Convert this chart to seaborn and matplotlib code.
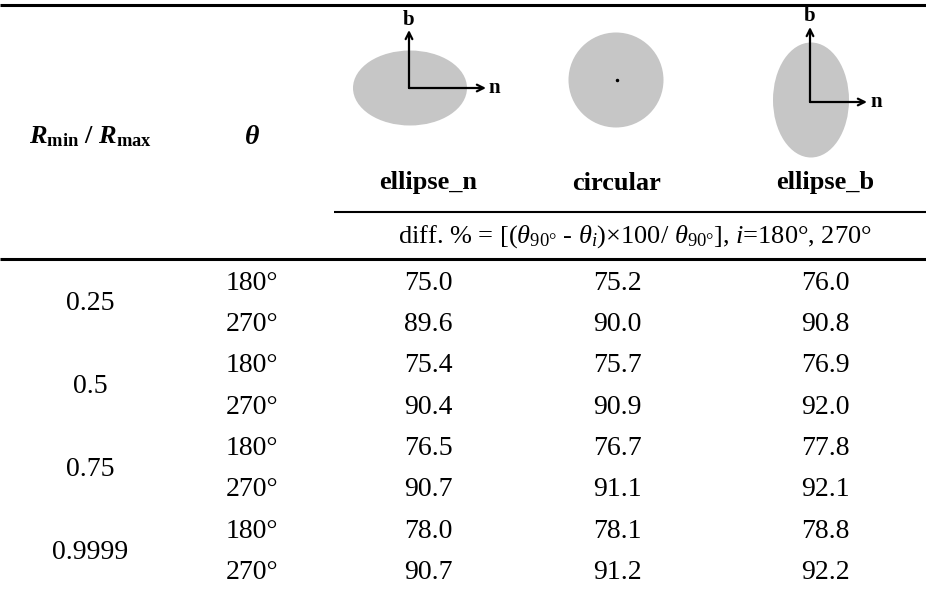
import numpy as np
import pandas as pd
import matplotlib
matplotlib.use('Agg')
import matplotlib.pyplot as plt
import seaborn as sns
from matplotlib.patches import Ellipse, FancyArrowPatch

# ---- data ----
ratios = ['0.25', '0.5', '0.75', '0.9999']
angles = ['180°', '270°']
shapes = ['ellipse_n', 'circular', 'ellipse_b']
ellipse_n = [75.0, 89.6, 75.4, 90.4, 76.5, 90.7, 78.0, 90.7]
circular = [75.2, 90.0, 75.7, 90.9, 76.7, 91.1, 78.1, 91.2]
ellipse_b = [76.0, 90.8, 76.9, 92.0, 77.8, 92.1, 78.8, 92.2]

df = pd.DataFrame({
    'ratio': np.repeat(ratios, len(angles)),
    'theta': angles * len(ratios),
    'ellipse_n': ellipse_n,
    'circular': circular,
    'ellipse_b': ellipse_b,
})

sns.set_theme(style='white')
plt.rcParams['font.family'] = ['Liberation Serif', 'DejaVu Serif']
plt.rcParams['text.color'] = 'black'
plt.rcParams['mathtext.fontset'] = 'custom'
plt.rcParams['mathtext.rm'] = 'Liberation Serif'
plt.rcParams['mathtext.it'] = 'Liberation Serif:italic'
plt.rcParams['mathtext.bf'] = 'Liberation Serif:bold'
plt.rcParams['mathtext.bfit'] = 'Liberation Serif:bold:italic'

fig = plt.figure(figsize=(9.26, 5.94), dpi=100)
ax = fig.add_axes([0, 0, 1, 1])
ax.set_xlim(0, 926)
ax.set_ylim(594, 0)
ax.axis('off')

col_x = {'ratio': 90, 'theta': 252, 'ellipse_n': 428, 'circular': 617, 'ellipse_b': 825}
row0, dy = 283, 41.4
fs = 20

# rules
ax.plot([0, 926], [5, 5], color='black', lw=2.2, solid_capstyle='butt')
ax.plot([334, 926], [212, 212], color='black', lw=1.5, solid_capstyle='butt')
ax.plot([0, 926], [259, 259], color='black', lw=2.2, solid_capstyle='butt')

# header graphics
gray = '#c6c6c6'
def axes_icon(cx, cy, w, h, ox, oy, btip, ntip, bl, nl):
    ax.add_patch(Ellipse((cx, cy), w, h, facecolor=gray, edgecolor='none', zorder=1))
    for end in [(ox, btip), (ntip, oy)]:
        ax.add_patch(FancyArrowPatch((ox, oy), end, arrowstyle='->', mutation_scale=12,
                                     lw=1.6, color='black', shrinkA=0, shrinkB=0, zorder=2))
    ax.text(ox, bl, 'b', ha='center', va='center', fontsize=15, fontweight='bold')
    ax.text(nl, oy, 'n', ha='center', va='center', fontsize=15, fontweight='bold')

axes_icon(410, 88, 114, 75, 409, 88, 30, 486, 20, 494)
ax.add_patch(Ellipse((616, 80), 95, 95, facecolor=gray, edgecolor='none', zorder=1))
ax.plot([617], [80], marker='o', ms=1.5, color='black')
axes_icon(811, 100, 76, 115, 810, 102, 27, 867, 16, 876)

# header texts
ax.text(col_x['ratio'], 137, r'$\mathbfit{R}_{\mathbf{min}}\ \mathbf{/}\ \mathbfit{R}_{\mathbf{max}}$',
        ha='center', va='center', fontsize=19)
ax.text(col_x['theta'], 137, 'θ', ha='center', va='center', fontsize=20,
        fontweight='bold', fontstyle='italic')
for s in shapes:
    ax.text(col_x[s], 183, s, ha='center', va='center', fontsize=19, fontweight='bold')

ax.text(635, 237, r'diff. % = [($\mathit{θ}_{90°}$ - $\mathit{θ}_{i}$)×100/ $\mathit{θ}_{90°}$], $\mathit{i}$=180°, 270°',
        ha='center', va='center', fontsize=19)

# body
for i, r in df.iterrows():
    y = row0 + dy * i
    ax.text(col_x['theta'], y, r['theta'], ha='center', va='center', fontsize=fs)
    for s in shapes:
        ax.text(col_x[s], y, f"{r[s]:.1f}", ha='center', va='center', fontsize=fs)
for j, rv in enumerate(ratios):
    y = row0 + dy * (2 * j) + dy / 2
    ax.text(col_x['ratio'], y, rv, ha='center', va='center', fontsize=fs)

fig.savefig('out.png', dpi=100)
